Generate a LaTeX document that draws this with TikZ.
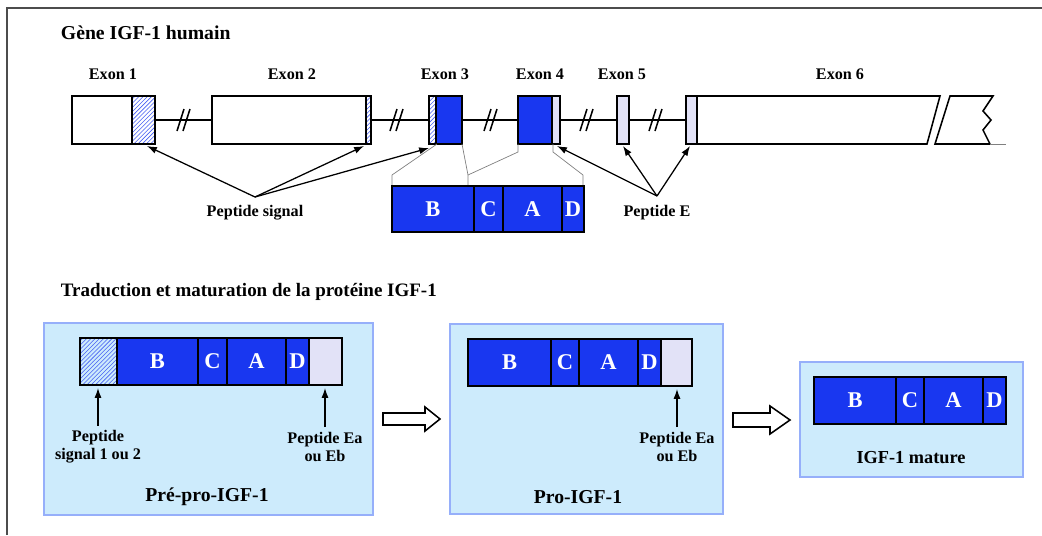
\documentclass[tikz,border=0pt]{standalone}
\usepackage{fontspec}
\setmainfont{Liberation Serif}
\usetikzlibrary{patterns,arrows.meta}
\definecolor{igfblue}{RGB}{25,55,240}
\definecolor{panelbg}{RGB}{205,235,252}
\definecolor{panelrim}{RGB}{150,175,250}
\definecolor{epepfill}{RGB}{226,226,247}

\begin{document}
\begin{tikzpicture}[x=0.025cm,y=-0.025cm,
    seg/.style={draw=black, line width=1.1pt},
    blueseg/.style={seg, fill=igfblue},
    hatchseg/.style={seg, pattern=north east lines, pattern color=igfblue!80},
    epepseg/.style={seg, fill=epepfill},
    guide/.style={draw=gray, line width=0.5pt},
    panel/.style={draw=panelrim, fill=panelbg, line width=1pt},
    ptr/.style={-{Latex[length=7pt,width=5pt]}, line width=0.9pt},
    lbl/.style={font=\bfseries\fontsize{11.5}{13}\selectfont, align=center},
    ttl/.style={font=\bfseries\fontsize{14}{16}\selectfont, anchor=west},
    letter/.style={text=white, font=\bfseries\fontsize{16}{18}\selectfont}]
    \useasboundingbox (0,0) rectangle (1042,535);
    \draw[black!70, line width=1.1pt] (7,535) -- (7,8) -- (1042,8);

    \node[ttl] (gene) at (56,33) {Gène IGF-1 humain};
    \node[ttl, font=\bfseries\fontsize{13.5}{16}\selectfont] (trad) at (56,292) {Traduction et maturation de la protéine IGF-1};

    \draw[line width=1.1pt] (155,120) -- (212,120) (371,120) -- (429,120) (462,120) -- (518,120)
        (560,120) -- (617,120) (629,120) -- (686,120);
    \foreach \c in {185,398,492,588,657} {
        \draw[line width=1.1pt] (\c-8,131) -- (\c-1,109) (\c-2,131) -- (\c+5,109);
    }
    \draw[seg, fill=white] (72,96) rectangle (132,144);
    \draw[hatchseg] (132,96) rectangle (155,144);
    \draw[seg, fill=white] (212,96) rectangle (366,144);
    \draw[hatchseg] (366,96) rectangle (371,144);
    \draw[hatchseg] (429,96) rectangle (436,144);
    \draw[blueseg] (436,96) rectangle (462,144);
    \draw[blueseg] (518,96) rectangle (552,144);
    \draw[epepseg] (552,96) rectangle (560,144);
    \draw[epepseg] (617,96) rectangle (629,144);
    \draw[epepseg] (686,96) rectangle (697,144);
    \draw[seg, fill=white] (697,96) -- (940,96) -- (927,144) -- (697,144) -- cycle;
    \draw[seg, line join=miter] (990,144) -- (935,144) -- (950,96) -- (993,96) -- (983,111)
        -- (991,120) -- (983,130) -- (990,144);
    \draw[guide] (990,144) -- (1006,144);

    \foreach \x/\n in {113/1,292/2,445/3,540/4,622/5,840/6} {
        \node[lbl] (exon\n) at (\x,74) {Exon \n};
    }

    \draw[guide] (437,144) -- (392,175) -- (392,186);
    \draw[guide] (462,144) -- (468,175) -- (468,186);
    \draw[guide] (518,144) -- (518,152) -- (468,175);
    \draw[guide] (553,144) -- (553,152) -- (583,175) -- (583,186);
    \foreach \a/\b/\t in {392/474/B,474/503/C,503/562/A,562/584/D} {
        \draw[blueseg] (\a,186) rectangle (\b,232);
        \node[letter] (gene\t) at ({(\a+\b)/2},209) {\t};
    }

    \node[lbl] (sigpep) at (255,213) {Peptide signal};
    \coordinate (sigtop) at (255,197);
    \coordinate (sp1) at (147,146);
    \coordinate (sp2) at (364,146);
    \coordinate (sp3) at (429,148);
    \foreach \t in {sp1,sp2,sp3} {
        \draw[ptr] (sigtop) -- (\t);
    }
    \node[lbl] (epep) at (657,213) {Peptide E};
    \coordinate (etop) at (657,196);
    \coordinate (ep1) at (557,146);
    \coordinate (ep2) at (623,146);
    \coordinate (ep3) at (690,146);
    \foreach \t in {ep1,ep2,ep3} {
        \draw[ptr] (etop) -- (\t);
    }

    \draw[panel] (44,323) rectangle (373,515);
    \draw[hatchseg] (80,338) rectangle (117,385);
    \foreach \a/\b/\t in {117/198/B,198/227/C,227/286/A,286/309/D} {
        \draw[blueseg] (\a,338) rectangle (\b,385);
        \node[letter] (prepro\t) at ({(\a+\b)/2},361) {\t};
    }
    \draw[epepseg] (309,338) rectangle (342,385);
    \node[lbl] (presig) at (98,447) {Peptide\\signal 1 ou 2};
    \node[lbl] (preep) at (325,447) {Peptide Ea\\ou Eb};
    \draw[ptr] (presig.north) -- (98,388);
    \draw[ptr] (preep.north) -- (325,388);
    \node[lbl, font=\bfseries\fontsize{14}{16}\selectfont] (prepro) at (207,497) {Pré-pro-IGF-1};

    \draw[line width=1.1pt, fill=white] (383,413) -- (425,413) -- (425,407) -- (440,419)
        -- (425,431) -- (425,425) -- (383,425) -- cycle;

    \draw[panel] (450,324) rectangle (723,514);
    \foreach \a/\b/\t in {468/551/B,551/579/C,579/638/A,638/661/D} {
        \draw[blueseg] (\a,339) rectangle (\b,386);
        \node[letter] (pro\t) at ({(\a+\b)/2},362) {\t};
    }
    \draw[epepseg] (661,339) rectangle (692,386);
    \node[lbl] (proep) at (677,447) {Peptide Ea\\ou Eb};
    \draw[ptr] (proep.north) -- (677,389);
    \node[lbl, font=\bfseries\fontsize{14}{16}\selectfont] (pro) at (578,497) {Pro-IGF-1};

    \draw[line width=1.1pt, fill=white] (733,413) -- (770,413) -- (770,406) -- (790,420)
        -- (770,434) -- (770,427) -- (733,427) -- cycle;

    \draw[panel] (800,362) rectangle (1023,477);
    \foreach \a/\b/\t in {814/896/B,896/924/C,924/983/A,983/1006/D} {
        \draw[blueseg] (\a,377) rectangle (\b,424);
        \node[letter] (mat\t) at ({(\a+\b)/2},400) {\t};
    }
    \node[lbl, font=\bfseries\fontsize{13}{16}\selectfont] (mature) at (911,458) {IGF-1 mature};
\end{tikzpicture}
\end{document}
